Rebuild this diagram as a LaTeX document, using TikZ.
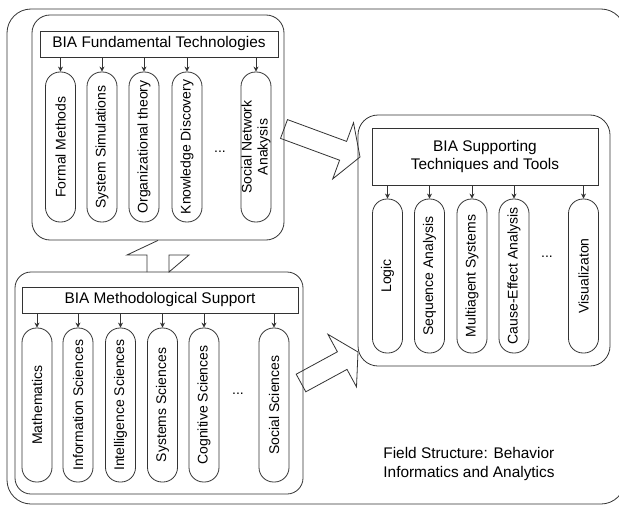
\documentclass[tikz,border=0pt]{standalone}
\usepackage{fontspec}
\setmainfont{Liberation Sans}
\usetikzlibrary{arrows.meta}
\colorlet{ln}{black!80}
\begin{document}
\begin{tikzpicture}[x=1pt,y=-1pt,
  grp/.style={draw=ln, line width=0.8pt, rectangle, inner sep=0pt},
  pill/.style={draw=ln, line width=0.8pt, rectangle, rounded corners=14.5pt, minimum height=30pt, inner sep=0pt, rotate=90, font=\fontsize{14}{16}\selectfont, align=center},
  hdr/.style={draw=ln, line width=0.8pt, rectangle, inner sep=0pt, font=\fontsize{15.4}{18.3}\selectfont, align=center},
  feed/.style={draw=ln, line width=0.8pt, -{Stealth[length=5pt,width=5pt]}},
  blk/.style={draw=ln, line width=0.8pt, line join=miter},
  dots/.style={font=\fontsize{14}{16}\selectfont, inner sep=0pt}
]
\fill[white] (0,0) rectangle (619,506);
\clip (0,0) rectangle (619,506);

% outer frame
\node[grp, rounded corners=24pt, minimum width=618pt, minimum height=495pt] (outer) at (316,256.5) {};

% ---------- top group: fundamental technologies
\node[grp, rounded corners=18pt, minimum width=252pt, minimum height=225pt] (G1) at (158,127.5) {};
\node[hdr, minimum width=238pt, minimum height=26pt] (H1) at (159,44) {BIA Fundamental Technologies};
\node[pill, minimum width=150pt] (a1) at (60.5,147) {Formal Methods};
\node[pill, minimum width=150pt] (a2) at (102,147) {System Simulations};
\node[pill, minimum width=150pt] (a3) at (144,147) {Organizational theory};
\node[pill, minimum width=150pt] (a4) at (187,147) {Knowledge Discovery};
\node[pill, minimum width=150pt] (a5) at (256,147) {Social Network\\Anakysis};
\node[dots] (d1) at (220,152) {...};
\foreach \p in {a1,a2,a3,a4,a5} \draw[feed] (\p.east |- H1.south) -- (\p.east);

% ---------- bottom group: methodological support
\node[grp, rounded corners=16pt, minimum width=288pt, minimum height=222pt] (G2) at (159,383) {};
\node[hdr, minimum width=276pt, minimum height=26pt] (H2) at (160,300) {BIA Methodological Support};
\node[pill, minimum width=154pt] (b1) at (37,405) {Mathematics};
\node[pill, minimum width=154pt] (b2) at (78,405) {Information Sciences};
\node[pill, minimum width=154pt] (b3) at (120.5,405) {Intelligence Sciences};
\node[pill, minimum width=154pt] (b4) at (162.5,405) {Systems Sciences};
\node[pill, minimum width=154pt] (b5) at (204,405) {Cognitive Sciences};
\node[pill, minimum width=154pt] (b6) at (274,405) {Social Sciences};
\node[dots] (d2) at (238,394) {...};
\foreach \p in {b1,b2,b3,b4,b5,b6} \draw[feed] (\p.east |- H2.south) -- (\p.east);

% ---------- right group: supporting techniques
\node[grp, rounded corners=20pt, minimum width=252pt, minimum height=251pt] (G3) at (484,240.5) {};
\node[hdr, minimum width=226pt, minimum height=57pt] (H3) at (485,156.5) {BIA Supporting\\Techniques and Tools};
\node[pill, minimum width=154pt] (c1) at (387.5,276) {Logic};
\node[pill, minimum width=154pt] (c2) at (429.5,276) {Sequence Analysis};
\node[pill, minimum width=154pt] (c3) at (472,276) {Multiagent Systems};
\node[pill, minimum width=154pt] (c4) at (514,276) {Cause-Effect Analysis};
\node[pill, minimum width=154pt] (c5) at (583.5,276) {Visualizaton};
\node[dots] (d3) at (547,257) {...};
\foreach \p in {c1,c2,c3,c4,c5} \draw[feed] (\p.east |- H3.south) -- (\p.east);

% ---------- block arrows
\coordinate (up) at (G1.south);
\draw[blk] (up) -- (127,255) -- (147,255) -- (147,272) (169,272) -- (169,255) -- (189,255) -- cycle;
\draw[blk] (287.5,119.6) -- (346.6,141.4) -- (353.5,122.7) -- (360,157) -- (332.7,178.9) -- (339.6,160.2) -- (280.5,138.4) -- cycle;
\draw[blk] (296.2,374.2) -- (337.4,351.8) -- (327.9,334.3) -- (358,352) -- (356.5,386.9) -- (347,369.4) -- (305.8,391.8) -- cycle;

% caption
\node[font=\fontsize{15.4}{18.3}\selectfont, align=left, inner sep=0pt] (cap) at (469,464) {Field Structure: Behavior\\Informatics and Analytics};
\end{tikzpicture}
\end{document}
